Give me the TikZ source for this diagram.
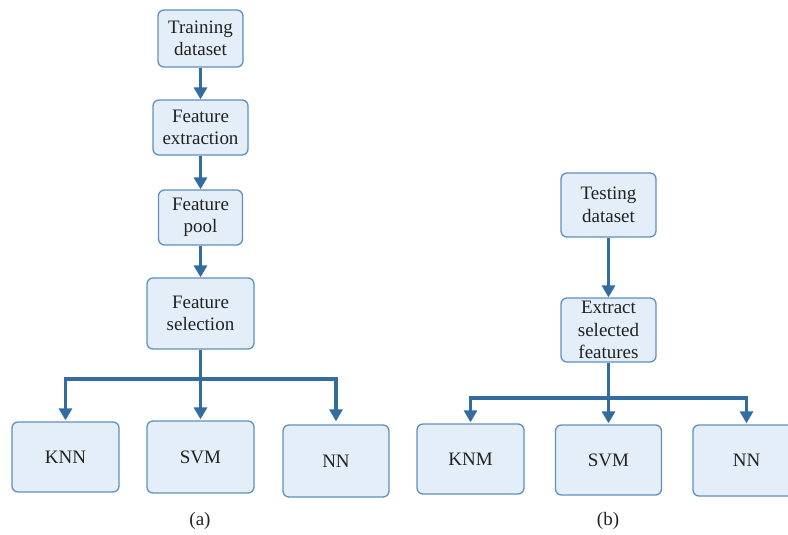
\documentclass[tikz,border=0pt]{standalone}
\usepackage{fontspec}
\setmainfont{Liberation Serif}
\usetikzlibrary{arrows.meta}
\definecolor{boxfill}{HTML}{E3EEF8}
\definecolor{boxline}{HTML}{5F90BE}
\definecolor{arrcol}{HTML}{336C9E}
\definecolor{txtcol}{HTML}{222222}
\tikzset{
  box/.style={draw=boxline, line width=1.3pt, fill=boxfill, rounded corners=6pt,
    align=center, text=txtcol, inner sep=0pt, font=\fontsize{19}{22.5}\selectfont},
  arr/.style={draw=arrcol, line width=3.2pt, -{Triangle[length=12pt,width=13pt]}},
  plain/.style={draw=arrcol, line width=3.2pt},
  captext/.style={text=txtcol, font=\fontsize{19}{22}\selectfont}
}
\begin{document}
\begin{tikzpicture}[x=1pt,y=-1pt]
\useasboundingbox (0,0) rectangle (788,535);
\clip (0,0) rectangle (788,535);
% panel (a)
\node[box, minimum width=85pt, minimum height=57pt] (ta) at (200.5,38.5) {Training\\dataset};
\node[box, minimum width=95pt, minimum height=55pt] (fe) at (200.5,127.5) {Feature\\extraction};
\node[box, minimum width=84pt, minimum height=55pt] (fp) at (200.5,217.5) {Feature\\pool};
\node[box, minimum width=107pt, minimum height=71pt] (fs) at (200.5,313.5) {Feature\\selection};
\node[box, minimum width=107pt, minimum height=70pt] (knn) at (65.5,457) {KNN};
\node[box, minimum width=107pt, minimum height=72pt] (svm) at (200.5,457) {SVM};
\node[box, minimum width=106pt, minimum height=72pt] (nn) at (336,461) {NN};
\coordinate (ja) at (200.5,379);
\draw[arr] (ta) -- (fe);
\draw[arr] (fe) -- (fp);
\draw[arr] (fp) -- (fs);
\draw[plain] (fs.south) -- (ja);
\draw[arr, shorten >=1pt] (ja) -| (knn.north);
\draw[arr, shorten >=1pt] (ja) -- (svm.north);
\draw[arr, shorten >=3pt] (ja) -| (nn.north);
\node[captext] (capa) at (200,521) {(a)};
% panel (b)
\node[box, minimum width=95pt, minimum height=64pt] (td) at (608.5,205) {Testing\\dataset};
\node[box, minimum width=95pt, minimum height=64pt] (es) at (608.5,330) {Extract\\selected\\features};
\node[box, minimum width=107pt, minimum height=70pt] (knm) at (470.5,459) {KNM};
\node[box, minimum width=106pt, minimum height=70pt] (svm2) at (608.5,460) {SVM};
\node[box, minimum width=107pt, minimum height=71pt] (nn2) at (746.5,460.5) {NN};
\coordinate (jb) at (608.5,398);
\draw[arr] (td) -- (es);
\draw[plain] (es.south) -- (jb);
\draw[arr, shorten >=1pt] (jb) -| (knm.north);
\draw[arr, shorten >=1pt] (jb) -- (svm2.north);
\draw[arr, shorten >=1pt] (jb) -| (nn2.north);
\node[captext] (capb) at (608,521) {(b)};
\end{tikzpicture}
\end{document}
